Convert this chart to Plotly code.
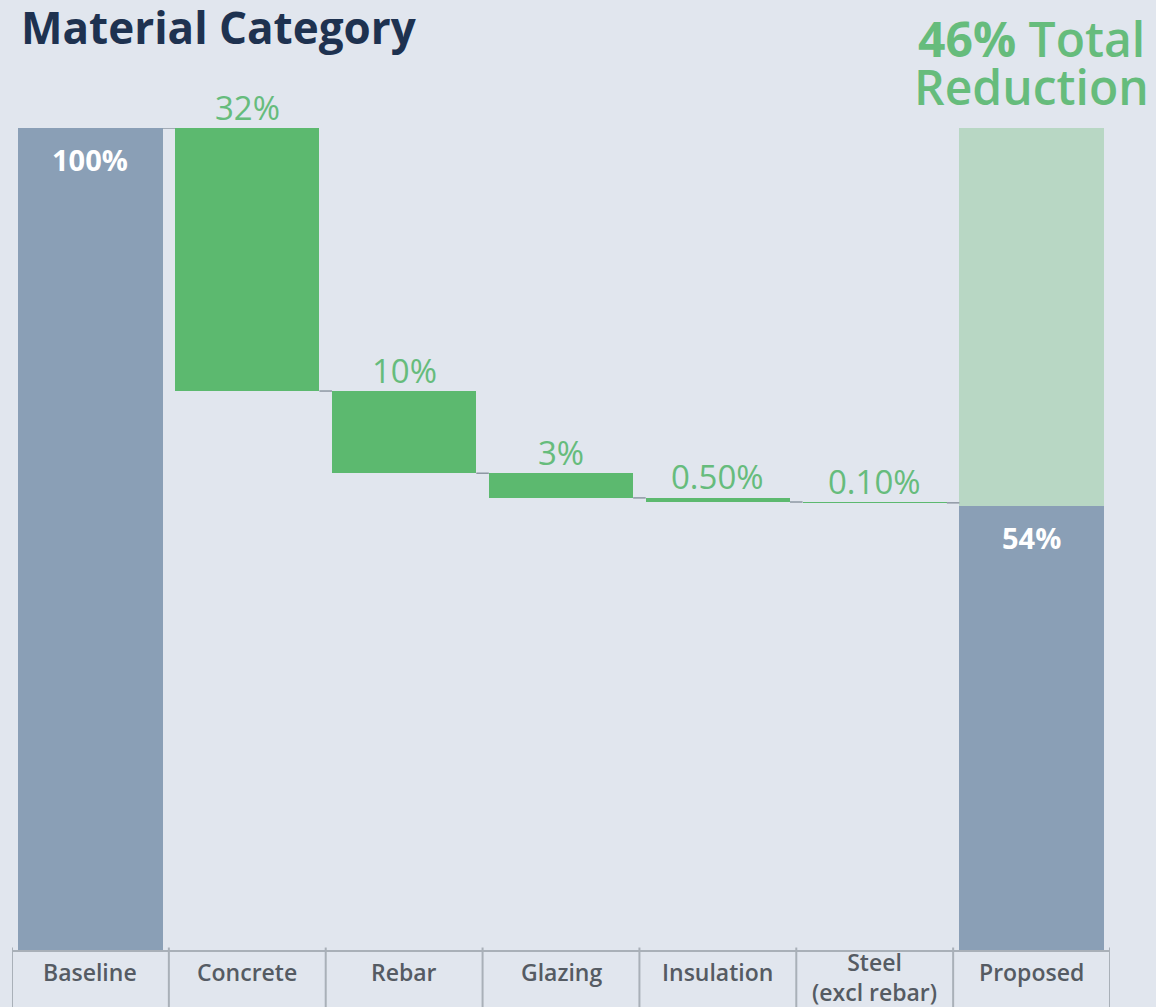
import plotly.graph_objects as go

# ---- data -------------------------------------------------------------
categories = ["Baseline", "Concrete", "Rebar", "Glazing", "Insulation",
              "Steel<br>(excl rebar)", "Proposed"]
baseline_value = 100
reduction_values = [32, 10, 3, 0.5, 0.1]
reduction_labels = ["32%", "10%", "3%", "0.50%", "0.10%"]
proposed_value = 54
total_reduction = 46
title_lines = ["Embodied Carbon Reduction by", "Material Category"]

# ---- styling ----------------------------------------------------------
BG = "#E1E6EE"
SLATE = "#8A9FB6"
GREEN = "#5CB96F"
LIGHT_GREEN = "#B8D7C4"
LABEL_GREEN = "#66BC7C"
NAVY = "#1E3250"
GRID = "#A9B0B8"
TICK_GREY = "#555B63"
FONT = "Open Sans"
BAR_W = 0.92
N = len(categories)

# running levels for the floating reduction bars
levels = [baseline_value]
for v in reduction_values:
    levels.append(levels[-1] - v)
red_bases = [levels[i + 1] for i in range(len(reduction_values))]
red_tops = [levels[i] for i in range(len(reduction_values))]

fig = go.Figure()

# baseline and proposed totals
fig.add_trace(go.Bar(
    x=[0, N - 1], y=[baseline_value, proposed_value],
    base=[0, 0], width=BAR_W, marker=dict(color=SLATE, line_width=0),
    hoverinfo="skip", showlegend=False))

# reduced share stacked above the proposed bar
fig.add_trace(go.Bar(
    x=[N - 1], y=[total_reduction], base=[proposed_value],
    width=BAR_W, marker=dict(color=LIGHT_GREEN, line_width=0),
    hoverinfo="skip", showlegend=False))

# per-material reductions
fig.add_trace(go.Bar(
    x=list(range(1, N - 1)), y=reduction_values, base=red_bases,
    width=BAR_W, marker=dict(color=GREEN, line_width=0),
    hoverinfo="skip", showlegend=False))

# connector lines between consecutive bars
cx, cy = [], []
for i, lvl in enumerate(levels):
    cx += [i + BAR_W / 2, i + 1 - BAR_W / 2, None]
    cy += [lvl, lvl, None]
fig.add_trace(go.Scatter(
    x=cx, y=cy, mode="lines", line=dict(color="#8E98A3", width=1.5),
    hoverinfo="skip", showlegend=False))

annotations = []
# reduction value labels above each green bar
for i, (top, lab) in enumerate(zip(red_tops, reduction_labels)):
    annotations.append(dict(
        x=i + 1, y=top, xref="x", yref="y", text=lab,
        showarrow=False, yanchor="middle", yshift=21,
        font=dict(family=FONT, size=33, color=LABEL_GREEN)))

# totals written inside the slate bars
for idx, val in [(0, baseline_value), (N - 1, proposed_value)]:
    annotations.append(dict(
        x=idx, y=val, xref="x", yref="y", text=f"{val}%",
        showarrow=False, yanchor="middle", yshift=-31,
        font=dict(family=FONT, size=29, color="white", weight=700)))

# category labels in the cells under the axis
for idx, cat in enumerate(categories):
    two_line = "<br>" in cat
    annotations.append(dict(
        x=idx, y=0, xref="x", yref="paper", text=cat,
        showarrow=False, yanchor="middle", yshift=-27 if two_line else -22,
        font=dict(family=FONT, size=23, color=TICK_GREY, weight=600)))

# total reduction callout
annotations.append(dict(
    x=N - 1, y=1.1083, xref="x", yref="paper",
    text=f"<b>{total_reduction}%</b> Total", showarrow=False, yanchor="middle",
    font=dict(family=FONT, size=48, color=LABEL_GREEN, weight=600)))
annotations.append(dict(
    x=N - 1, y=1.0500, xref="x", yref="paper",
    text="Reduction", showarrow=False, yanchor="middle",
    font=dict(family=FONT, size=48, color=LABEL_GREEN, weight=600)))

# chart title (first line runs off the top of the page)
annotations.append(dict(
    x=0.0, y=1.1580, xref="paper", yref="paper", xanchor="left", xshift=7,
    text="<br>".join(title_lines), align="left", showarrow=False,
    yanchor="middle",
    font=dict(family=FONT, size=44, color=NAVY, weight=700)))

# category cell separators below the axis
shapes = []
for k in range(N + 1):
    shapes.append(dict(
        type="line", xref="x", yref="paper", x0=k - 0.5, x1=k - 0.5,
        y0=0.003, y1=-0.09, line=dict(color=GRID, width=2)))

fig.update_layout(
    width=1156, height=1007,
    margin=dict(l=12, r=46, t=128, b=57),
    paper_bgcolor=BG, plot_bgcolor=BG,
    barmode="overlay", bargap=0,
    annotations=annotations, shapes=shapes,
    xaxis=dict(range=[-0.5, N - 0.5], showgrid=False, zeroline=False,
               showline=True, linecolor=GRID, linewidth=2, ticks="",
               showticklabels=False, automargin=False, fixedrange=True),
    yaxis=dict(range=[0, 100], visible=False, showgrid=False,
               zeroline=False, automargin=False, fixedrange=True),
    font=dict(family=FONT),
)

fig.write_html("out.html")
